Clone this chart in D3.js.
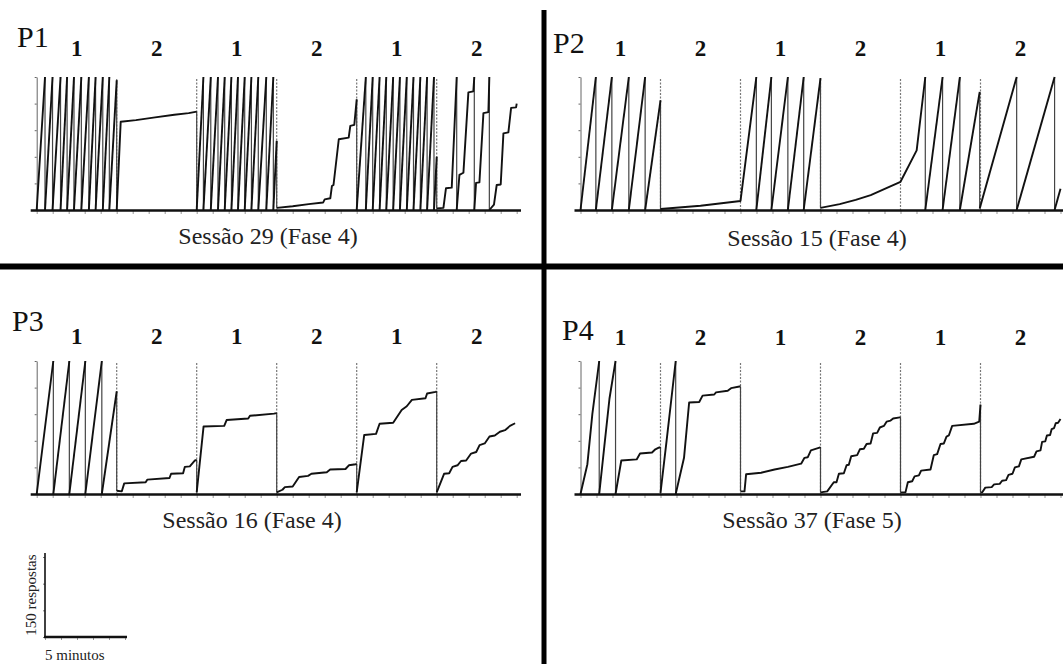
<!DOCTYPE html>
<html>
<head>
<meta charset="utf-8">
<script src="https://cdn.jsdelivr.net/npm/d3@7"></script>
<style>
  body { margin: 0; background: #fff; }
  svg text { font-family: "Liberation Serif", "DejaVu Serif", serif; }
</style>
</head>
<body>
<script>
// Cumulative records: [minute, responses]; a repeated minute with a lower count is a pen reset
const p1Record = [
  [0,0],[0.52,250],[0.52,0],[0.99,250],[0.99,0],[1.49,250],[1.49,0],[1.9,250],[1.9,0],
  [2.33,250],[2.33,0],[2.79,250],[2.79,0],[3.26,250],[3.26,0],[3.68,250],[3.68,0],
  [4.13,250],[4.13,0],[4.54,250],[4.54,0],[5,244],[5,0],
  [5.25,166],[6.2,169],[7.4,174],[8.6,179],[9.5,182],[10,185],[10,0],
  [10.42,250],[10.42,0],[10.88,250],[10.88,0],[11.33,250],[11.33,0],[11.75,250],[11.75,0],
  [12.17,250],[12.17,0],[12.58,250],[12.58,0],[13.0,250],[13.0,0],[13.42,250],[13.42,0],
  [13.85,250],[13.85,0],[14.35,250],[14.35,0],[14.79,250],[14.79,0],[15,130],[15,4],
  [16,7],[17,11],[17.9,14],[18.0,20],[18.35,22],[18.45,45],[18.55,47],[18.88,133],
  [19.5,136],[19.6,158],[19.85,160],[20,208],[20,0],
  [20.57,250],[20.57,0],[21.0,250],[21.0,0],[21.43,250],[21.43,0],[21.85,250],[21.85,0],
  [22.28,250],[22.28,0],[22.7,250],[22.7,0],[23.13,250],[23.13,0],[23.55,250],[23.55,0],
  [23.98,250],[23.98,0],[24.4,250],[24.4,0],[24.83,250],[24.83,0],[25,100],[25,3],
  [25.42,4],[25.58,41],[25.94,42],[26.25,250],[26.25,0],[26.42,66],[26.67,70],[26.98,221],
  [27.29,223],[27.35,250],[27.35,0],[27.46,51],[27.67,52],[27.92,182],[28.23,184],[28.29,250],
  [28.29,0],[28.58,10],[28.75,47],[29.0,48],[29.17,144],[29.48,146],[29.65,192],[29.96,193],[30,200]
];
const p2Record = [
  [0,0],[0.96,250],[0.96,0],[1.96,250],[1.96,0],[3.02,250],[3.02,0],[4.04,250],[4.04,0],
  [5,206],[5,2],[7.5,8],[10,17],
  [10.99,250],[10.99,0],[11.93,250],[11.93,0],[12.96,250],[12.96,0],[13.95,250],[13.95,0],
  [15,248],[15,4],[16.2,11],[17.2,19],[18.14,28],[19.12,41],[20,53],
  [21.01,112],[21.55,250],[21.55,0],[22.63,250],[22.63,0],[23.71,250],[23.71,0],
  [24.95,222],[24.95,3],[27.26,250],[27.26,0],[29.63,250],[29.63,0],[30,40]
];
const p3Record = [
  [0,0],[1.04,250],[1.04,0],[2.04,250],[2.04,0],[3.04,250],[3.04,0],[4.07,250],[4.07,0],
  [5,193],[5,6],
  [5.32,5],[5.47,20],[6.81,22],[6.91,27],[8.3,30],[8.4,38],[9.15,39],[9.26,51],[9.57,52],
  [9.89,63],[10,64],[10,3],
  [10.43,127],[11.72,128],[11.87,139],[13.22,142],[13.33,147],[14.83,151],[15,152],[15,3],
  [15.36,8],[15.51,13],[16,14],[16.4,32],[16.96,34],[17.17,38],[18.13,41],[18.34,46],
  [19.3,47],[19.51,54],[19.94,56],[20,57],[20,3],
  [20.47,111],[21.21,113],[21.43,132],[22.28,134],[22.81,158],[23.13,165],[23.45,177],
  [24.3,180],[24.4,189],[24.94,192],[25,193],[25,3],
  [25.46,38],[25.78,39],[25.99,51],[26.3,54],[26.52,62],[26.84,63],[27.15,76],[27.47,79],
  [27.68,92],[28,95],[28.3,108],[28.63,110],[28.95,117],[29.27,120],[29.58,128],[29.9,133]
];
const p4Record = [
  [0,0],[0.43,56],[0.74,150],[1.17,250],[1.17,0],[1.49,90],[1.81,179],[2.19,250],[2.19,0],
  [2.55,63],[3.51,65],[3.72,76],[4.47,78],[4.68,84],[4.89,87],[5,88],[5,2],
  [5.38,100],[5.95,250],[5.95,0],[6.47,68],[6.79,172],[7.42,173],[7.63,185],[8.36,187],
  [8.47,191],[9.2,194],[9.41,199],[9.94,202],[10,202],[10,5],
  [10.25,5],[10.35,37],[11.29,40],[12.13,46],[12.96,51],[13.79,57],[14.0,68],[14.2,69],
  [14.4,82],[14.94,87],[15,88],[15,3],
  [15.42,5],[15.83,22],[16.0,22],[16.15,38],[16.46,39],[16.63,54],[16.77,55],[16.92,71],
  [17.29,73],[17.46,84],[17.71,85],[17.88,94],[18.13,95],[18.29,114],[18.54,115],[18.71,125],
  [18.96,128],[19.13,136],[19.38,138],[19.54,142],[19.96,144],[20,144],[20,3],
  [20.31,3],[20.46,22],[20.73,24],[20.88,33],[21.15,35],[21.29,44],[21.875,46],[22.08,73],
  [22.29,75],[22.5,94],[22.71,95],[22.875,108],[23.02,110],[23.23,128],[24.58,132],
  [24.92,136],[25,168],[25,3],
  [25.1,3],[25.3,12],[25.7,13],[25.85,18],[26.2,19],[26.35,25],[26.6,26],[26.75,36],
  [27.0,38],[27.15,50],[27.4,52],[27.55,65],[28.35,70],[28.5,80],[28.75,82],[28.85,98],
  [29.05,99],[29.15,110],[29.35,111],[29.45,122],[29.6,124],[29.7,133],[29.85,134],[30,141]
];

const panelNames = ["P1", "P2", "P3", "P4"];
const sessionLabels = ["Sessão 29 (Fase 4)", "Sessão 15 (Fase 4)", "Sessão 16 (Fase 4)", "Sessão 37 (Fase 5)"];
const componentLabels = ["1", "2", "1", "2", "1", "2"];
const componentEdges = [5, 10, 15, 20, 25];
const responseTicks = [0, 50, 100, 150, 200, 250];
const barResponseTicks = [0, 50, 100, 150];

const width = 1063, height = 664;
const serif = "'Liberation Serif', 'DejaVu Serif', serif";
const records = [p1Record, p2Record, p3Record, p4Record];

// where each panel sits on the page
const layout = [
  {left: 36.7,  base: 210, top: 77,  nameX: 17,  nameY: 47,  labY: 56,  sesX: 268, sesY: 244, axisEnd: 521},
  {left: 580.5, base: 210, top: 77,  nameX: 553, nameY: 53,  labY: 56,  sesX: 817, sesY: 246, axisEnd: 1063},
  {left: 36.7,  base: 494, top: 361, nameX: 12,  nameY: 331, labY: 344, sesX: 252, sesY: 528, axisEnd: 521},
  {left: 580.5, base: 494, top: 361, nameX: 562, nameY: 340, labY: 345, sesX: 812, sesY: 528, axisEnd: 1063}
];

const svg = d3.select("body")
  .append("svg")
  .attr("width", width)
  .attr("height", height);

svg.append("rect").attr("width", width).attr("height", height).attr("fill", "white");

function splitRuns(rec) {
  const runs = [[rec[0]]], drops = [];
  for (let i = 1; i < rec.length; i++) {
    const a = rec[i - 1], b = rec[i];
    if (b[0] === a[0] && b[1] < a[1]) { drops.push([a, b]); runs.push([b]); }
    else runs[runs.length - 1].push(b);
  }
  return {runs, drops};
}

layout.forEach((p, i) => {
  const x = d3.scaleLinear().domain([0, 30]).range([p.left, p.left + 480]);
  const y = d3.scaleLinear().domain([0, 250]).range([p.base, p.top]);
  const g = svg.append("g");

  // y axis (thin, grey)
  g.append("g")
    .attr("transform", `translate(${p.left},0)`)
    .call(d3.axisLeft(y).tickValues(responseTicks).tickSize(2).tickSizeOuter(0).tickFormat(""))
    .call(a => a.selectAll("path, line").attr("stroke", "#666").attr("stroke-width", 1));

  // minute ticks
  g.append("g")
    .attr("transform", `translate(0,${p.base})`)
    .call(d3.axisBottom(x).ticks(30).tickSize(4).tickSizeOuter(0).tickFormat(""))
    .call(a => a.select(".domain").remove())
    .call(a => a.selectAll("line").attr("stroke", "#999").attr("stroke-width", 1));

  // component changes
  g.selectAll("line.edge")
    .data(componentEdges)
    .enter()
    .append("line")
      .attr("class", "edge")
      .attr("x1", d => x(d)).attr("x2", d => x(d))
      .attr("y1", y(250) + 2).attr("y2", y(0))
      .attr("stroke", "#777")
      .attr("stroke-width", 1.2)
      .attr("stroke-dasharray", "2,1.5");

  const {runs, drops} = splitRuns(records[i]);

  g.selectAll("line.drop")
    .data(drops)
    .enter()
    .append("line")
      .attr("class", "drop")
      .attr("x1", d => x(d[0][0])).attr("x2", d => x(d[1][0]))
      .attr("y1", d => y(d[0][1])).attr("y2", d => y(d[1][1]))
      .attr("stroke", "#444")
      .attr("stroke-width", 1.2);

  const line = d3.line().x(d => x(d[0])).y(d => y(d[1]));
  g.selectAll("path.run")
    .data(runs)
    .enter()
    .append("path")
      .attr("class", "run")
      .attr("d", line)
      .attr("fill", "none")
      .attr("stroke", "#111")
      .attr("stroke-width", 1.9)
      .attr("stroke-linejoin", "round");

  // base line
  g.append("line")
    .attr("x1", p.left - 6).attr("x2", p.axisEnd)
    .attr("y1", p.base + 0.5).attr("y2", p.base + 0.5)
    .attr("stroke", "#111")
    .attr("stroke-width", 2.6);

  g.append("text")
    .attr("x", p.nameX).attr("y", p.nameY)
    .text(panelNames[i])
    .attr("font-family", serif)
    .attr("font-size", "30px")
    .attr("fill", "#111");

  g.selectAll("text.comp")
    .data(componentLabels)
    .enter()
    .append("text")
      .attr("class", "comp")
      .attr("x", (d, j) => x(j * 5 + 2.5))
      .attr("y", p.labY)
      .attr("text-anchor", "middle")
      .attr("font-family", serif)
      .attr("font-size", "23px")
      .attr("font-weight", "bold")
      .attr("fill", "#111")
      .text(d => d);

  g.append("text")
    .attr("x", p.sesX).attr("y", p.sesY)
    .attr("text-anchor", "middle")
    .attr("font-family", serif)
    .attr("font-size", "24px")
    .attr("fill", "#222")
    .text(sessionLabels[i]);
});

// quadrant dividers
svg.append("line")
  .attr("x1", 0).attr("x2", width)
  .attr("y1", 266.5).attr("y2", 266.5)
  .attr("stroke", "#000").attr("stroke-width", 6);
svg.append("line")
  .attr("x1", 544).attr("x2", 544)
  .attr("y1", 10).attr("y2", height)
  .attr("stroke", "#000").attr("stroke-width", 5);

// scale bar
const bx = d3.scaleLinear().domain([0, 5]).range([45, 125]);
const by = d3.scaleLinear().domain([0, 150]).range([637, 557]);
const bar = svg.append("g");
bar.append("g")
  .attr("transform", "translate(0,637)")
  .call(d3.axisBottom(bx).ticks(5).tickSize(3).tickSizeOuter(0).tickFormat(""))
  .call(a => a.select(".domain").remove())
  .call(a => a.selectAll("line").attr("stroke", "#999"));
bar.append("g")
  .attr("transform", "translate(45,0)")
  .call(d3.axisLeft(by).tickValues(barResponseTicks).tickSize(2).tickSizeOuter(0).tickFormat(""))
  .call(a => a.selectAll("line").attr("stroke", "#777"))
  .call(a => a.select(".domain").remove());
bar.append("line")
  .attr("x1", 45).attr("x2", 45)
  .attr("y1", by(0)).attr("y2", by(150) - 4)
  .attr("stroke", "#111").attr("stroke-width", 1.6);
bar.append("line")
  .attr("x1", bx(0) - 1).attr("x2", bx(5) + 2)
  .attr("y1", 637).attr("y2", 637)
  .attr("stroke", "#111").attr("stroke-width", 2.4);
bar.append("text")
  .attr("transform", `translate(36,${by(75) - 2}) rotate(-90)`)
  .attr("text-anchor", "middle")
  .attr("font-family", serif)
  .attr("font-size", "15px")
  .attr("fill", "#222")
  .text("150 respostas");
bar.append("text")
  .attr("x", 45).attr("y", 660)
  .attr("font-family", serif)
  .attr("font-size", "15px")
  .attr("fill", "#222")
  .text("5 minutos");
</script>
</body>
</html>
